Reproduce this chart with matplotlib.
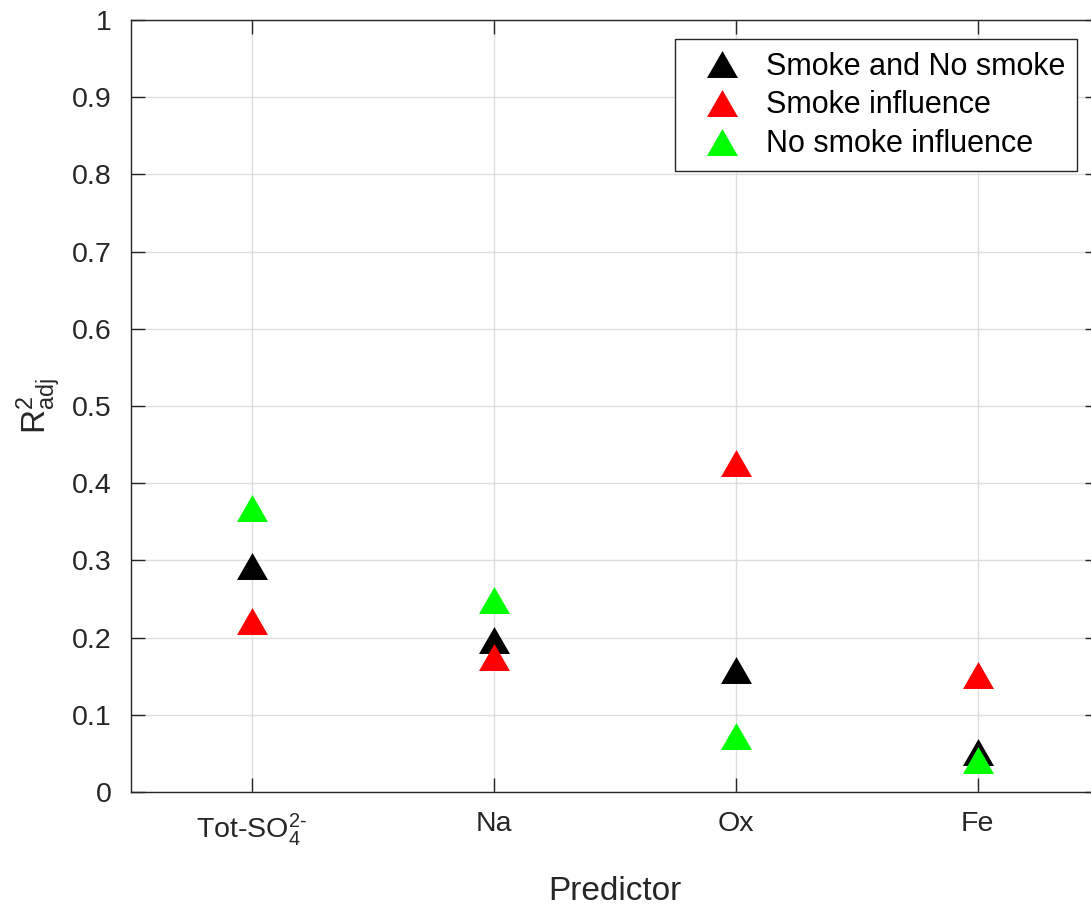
import matplotlib.pyplot as plt
import numpy as np

plt.rcParams['font.family'] = ['Liberation Sans', 'DejaVu Sans']
plt.rcParams['mathtext.fontset'] = 'custom'
plt.rcParams['mathtext.rm'] = 'Liberation Sans'
plt.rcParams['mathtext.it'] = 'Liberation Sans'

# predictors and adjusted R^2 for each group
predictors = ['Tot-SO$_4^{2\\text{-}}$', 'Na', 'Ox', 'Fe']
all_days = [0.293, 0.197, 0.158, 0.052]
smoke = [0.222, 0.175, 0.426, 0.152]
no_smoke = [0.368, 0.249, 0.072, 0.041]

series_names = ['Smoke and No smoke', 'Smoke influence', 'No smoke influence']
series_colors = ['black', '#ff0000', '#00ff00']

dark = '#262626'
tri = [(0, 0.87), (-1, -0.87), (1, -0.87)]

fig = plt.figure(figsize=(10.91, 9.09), dpi=100)
ax = fig.add_axes([131 / 1091, 117 / 909, 967.7 / 1091, 772 / 909])

x = np.arange(1, len(predictors) + 1)
for vals, name, col in zip([all_days, smoke, no_smoke], series_names, series_colors):
    ax.plot(x, vals, linestyle='none', marker=tri, markersize=22.3,
            color=col, markeredgewidth=0, label=name)

ax.set_xlim(0.5, 4.5)
ax.set_ylim(0, 1)
ax.set_xticks(x)
ax.set_xticklabels(predictors)
ax.set_yticks(np.arange(0, 1.01, 0.1))
ax.set_yticklabels(['%g' % v for v in np.round(np.arange(0, 1.01, 0.1), 1)])

ax.grid(True, color='#dedede', linewidth=1)
ax.set_axisbelow(True)
ax.tick_params(direction='in', length=10, width=1, colors=dark, labelsize=20.5,
               top=True, right=True, pad=14)
for s in ax.spines.values():
    s.set_color(dark)
    s.set_linewidth(1)

ax.set_xlabel('Predictor', fontsize=24, color=dark, labelpad=20)
ax.set_ylabel('$\\mathregular{R^2_{adj}}$', fontsize=24, color=dark, labelpad=6)

leg = ax.legend(loc='upper right', bbox_to_anchor=(0.978, 0.975), fontsize=22,
                fancybox=False, framealpha=1, edgecolor=dark, handlelength=2.25,
                handletextpad=0.32, labelspacing=0.29, borderpad=0.4,
                borderaxespad=0)
leg.get_frame().set_linewidth(1)

plt.savefig('out.png', dpi=100)
